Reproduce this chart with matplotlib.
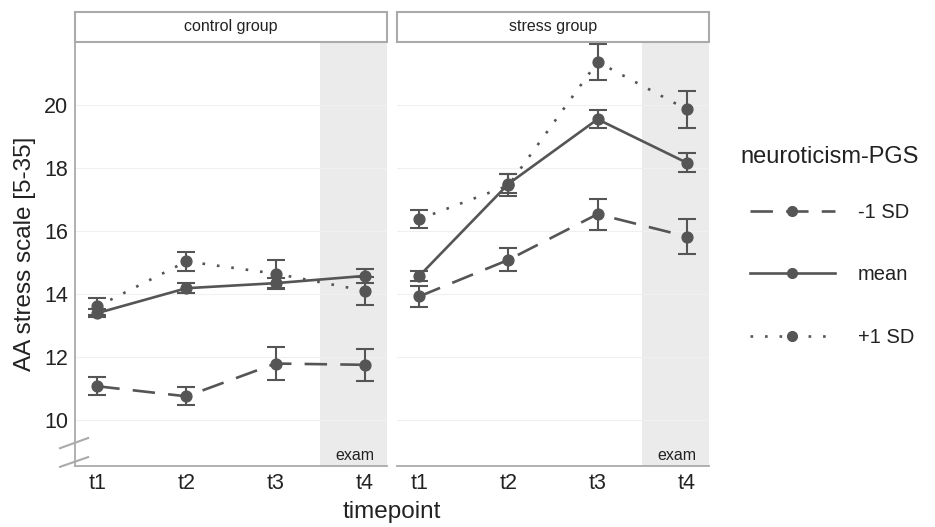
import matplotlib.pyplot as plt
from matplotlib.lines import Line2D
from matplotlib.patches import Rectangle

# -----------------------------------
# Data
# -----------------------------------

timepoints = ["t1", "t2", "t3", "t4"]
groups = ["control group", "stress group"]
levels = ["-1 SD", "mean", "+1 SD"]

control_means = {
    "-1 SD": [11.08, 10.76, 11.80, 11.76],
    "mean": [13.40, 14.19, 14.35, 14.58],
    "+1 SD": [13.61, 15.04, 14.65, 14.11],
}
control_err = {
    "-1 SD": [0.28, 0.29, 0.51, 0.50],
    "mean": [0.12, 0.16, 0.17, 0.22],
    "+1 SD": [0.28, 0.30, 0.45, 0.45],
}
stress_means = {
    "-1 SD": [13.93, 15.09, 16.54, 15.83],
    "mean": [14.58, 17.50, 19.55, 18.17],
    "+1 SD": [16.38, 17.45, 21.37, 19.86],
}
stress_err = {
    "-1 SD": [0.34, 0.37, 0.49, 0.54],
    "mean": [0.17, 0.30, 0.28, 0.30],
    "+1 SD": [0.28, 0.35, 0.58, 0.60],
}

y_ticks = [10, 12, 14, 16, 18, 20]

# -----------------------------------
# Style
# -----------------------------------

plt.rcParams['font.family'] = ['Liberation Sans', 'DejaVu Sans']

line_color = "#555555"
text_color = "#222222"
axis_gray = "#aaaaaa"
shade = "#ebebeb"

dash_styles = {
    "-1 SD": (0, (8.5, 5)),
    "mean": "-",
    "+1 SD": (0, (1, 4.5)),
}

W, H = 935, 527
fig = plt.figure(figsize=(W / 100, H / 100), dpi=100)

panel_left = [75, 397]
panel_w = 312
panel_top, panel_bottom = 42, 466
strip_top = 12

x = [1, 2, 3, 4]
data = [(control_means, control_err), (stress_means, stress_err)]

axes = []
for gi, group in enumerate(groups):
    ax = fig.add_axes([panel_left[gi] / W, 1 - panel_bottom / H,
                       panel_w / W, (panel_bottom - panel_top) / H])
    axes.append(ax)

    means, errs = data[gi]

    ax.axvspan(3.5, 4.25, color=shade, zorder=0, lw=0)

    for lvl in levels:
        ax.errorbar(x, means[lvl], yerr=errs[lvl], color=line_color,
                    linestyle=dash_styles[lvl], linewidth=1.9,
                    marker="o", markersize=7.8, capsize=6.5,
                    elinewidth=1.5, capthick=1.5, zorder=3)

    ax.set_xlim(0.75, 4.25)
    ax.set_ylim(8.55, 22.0)
    ax.set_xticks(x)
    ax.set_xticklabels(timepoints)
    ax.set_yticks(y_ticks)
    ax.grid(axis="y", color="#f0f0f0", linewidth=0.8, zorder=0)
    ax.set_axisbelow(True)
    ax.tick_params(length=0, labelsize=15.5, colors=text_color, pad=5)

    for s in ["top", "right"]:
        ax.spines[s].set_visible(False)
    ax.spines["bottom"].set_color(axis_gray)
    ax.spines["bottom"].set_linewidth(1.3)
    if gi == 0:
        ax.spines["left"].set_color(axis_gray)
        ax.spines["left"].set_linewidth(1.3)
    else:
        ax.spines["left"].set_visible(False)
        ax.tick_params(axis="y", labelleft=False)

    ax.text(0.958, 0.008, "exam", transform=ax.transAxes, ha="right",
            va="bottom", fontsize=11.5, color=text_color)

    # facet strip
    sax = fig.add_axes([panel_left[gi] / W, 1 - panel_top / H,
                        panel_w / W, (panel_top - strip_top) / H])
    sax.set_xlim(0, 1)
    sax.set_ylim(0, 1)
    sax.axis("off")
    sax.add_patch(Rectangle((0, 0), 1, 1, transform=sax.transAxes,
                            facecolor="white", edgecolor=axis_gray,
                            linewidth=1.5, clip_on=False))
    sax.text(0.5, 0.5, group, ha="center", va="center", fontsize=11.5,
             color=text_color)

# axis break marks
ax1 = axes[0]
for y0, y1 in [(0.042, 0.066), (-0.002, 0.021)]:
    ax1.add_line(Line2D([-0.048, 0.042], [y0, y1], transform=ax1.transAxes,
                        color=axis_gray, linewidth=1.5, clip_on=False))

ax1.set_ylabel("AA stress scale [5-35]", fontsize=17.5, color=text_color,
               labelpad=6)

fig.text(392 / W, 1 - 512 / H, "timepoint", ha="center", va="center",
         fontsize=17.5, color=text_color)

# -----------------------------------
# Legend
# -----------------------------------

fig.text(740 / W, 1 - 157 / H, "neuroticism-PGS", ha="left", va="center",
         fontsize=17, color=text_color)

handles = [Line2D([0], [0], color=line_color, linestyle=dash_styles[l],
                  linewidth=1.9, marker="o", markersize=7) for l in levels]
leg = fig.legend(handles, levels,
                 loc="center left", bbox_to_anchor=(750 / W, 1 - 275 / H),
                 frameon=False, fontsize=14.5,
                 handlelength=4.2, labelspacing=2.15, handletextpad=1.15,
                 borderpad=0, borderaxespad=0)
for t in leg.get_texts():
    t.set_color(text_color)

plt.savefig("out.png", dpi=100)
